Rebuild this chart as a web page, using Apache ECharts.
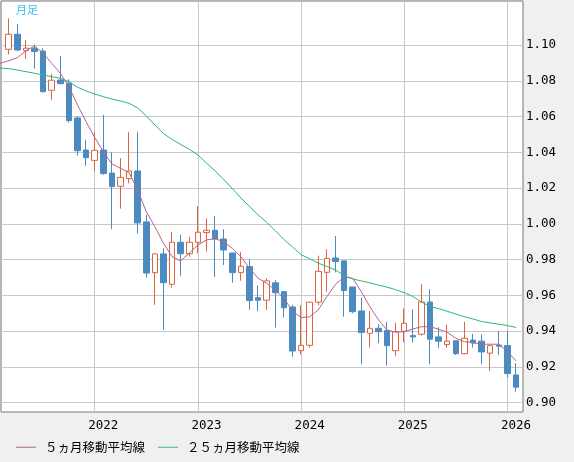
<!DOCTYPE html>
<html>
<head>
<meta charset="utf-8">
<script src="https://cdn.jsdelivr.net/npm/echarts@6/dist/echarts.min.js"></script>
<style>
html,body{margin:0;padding:0;background:#f0f0f0;}
#chart{width:574px;height:462px;}
</style>
</head>
<body>
<div id="chart"></div>
<script>
// Monthly candles, Mar 2021 .. Feb 2026
const months = [];
for (let k = 0; k < 60; k++) {
  const y = 2021 + Math.floor((k + 2) / 12);
  const m = ((k + 2) % 12) + 1;
  months.push(y + '-' + String(m).padStart(2, '0'));
}
const opens  = [1.0976,1.1060,1.0968,1.0982,1.0966,1.0747,1.0804,1.0786,1.0592,1.0413,
                1.0355,1.0413,1.0284,1.0210,1.0253,1.0296,1.0011,0.9727,0.9832,0.9662,
                0.9897,0.9833,0.9897,0.9951,0.9964,0.9915,0.9837,0.9727,0.9761,0.9587,
                0.9573,0.9670,0.9621,0.9535,0.9291,0.9321,0.9562,0.9729,0.9809,0.9793,
                0.9647,0.9513,0.9388,0.9416,0.9403,0.9291,0.9400,0.9375,0.9383,0.9563,
                0.9368,0.9325,0.9346,0.9274,0.9350,0.9344,0.9277,0.9322,0.9320,0.9155];
const closes = [1.1060,1.0972,1.0982,1.0963,1.0739,1.0803,1.0784,1.0577,1.0409,1.0370,
                1.0411,1.0281,1.0208,1.0260,1.0296,1.0005,0.9725,0.9832,0.9671,0.9897,
                0.9833,0.9897,0.9953,0.9964,0.9915,0.9854,0.9727,0.9763,0.9571,0.9573,
                0.9681,0.9615,0.9531,0.9289,0.9321,0.9562,0.9735,0.9807,0.9789,0.9627,
                0.9509,0.9392,0.9416,0.9397,0.9319,0.9397,0.9444,0.9368,0.9563,0.9355,
                0.9344,0.9344,0.9274,0.9360,0.9334,0.9284,0.9319,0.9316,0.9163,0.9087];
const lows   = [1.0948,1.0966,1.0923,1.0868,1.0735,1.0694,1.0780,1.0566,1.0381,1.0325,
                1.0297,1.0275,0.9970,1.0085,1.0227,0.9945,0.9699,0.9548,0.9407,0.9643,
                0.9710,0.9817,0.9836,0.9845,0.9703,0.9770,0.9671,0.9682,0.9520,0.9513,
                0.9519,0.9420,0.9476,0.9257,0.9269,0.9308,0.9545,0.9621,0.9729,0.9481,
                0.9500,0.9215,0.9308,0.9333,0.9207,0.9260,0.9336,0.9336,0.9375,0.9215,
                0.9306,0.9308,0.9267,0.9271,0.9308,0.9215,0.9178,0.9267,0.9140,0.9062];
const highs  = [1.1149,1.1117,1.1028,1.1002,1.0982,1.0838,1.0939,1.0808,1.0601,1.0469,
                1.0512,1.0609,1.0400,1.0367,1.0514,1.0514,1.0050,0.9836,0.9864,0.9955,
                0.9938,0.9928,1.0100,1.0031,1.0044,0.9970,0.9837,0.9843,0.9802,0.9655,
                0.9696,0.9686,0.9625,0.9547,0.9545,0.9562,0.9822,0.9858,0.9932,0.9793,
                0.9647,0.9587,0.9513,0.9439,0.9452,0.9446,0.9526,0.9522,0.9664,0.9634,
                0.9422,0.9435,0.9346,0.9451,0.9385,0.9383,0.9322,0.9401,0.9401,0.9222];
// moving averages: first entry is the month before the first candle (Feb 2021)
const ma5  = [1.0898,
              1.0912,1.0929,1.0968,1.0994,1.0954,1.0898,1.0842,1.0767,1.0665,1.0571,
              1.0483,1.0404,1.0335,1.0311,1.0286,1.0189,1.0068,0.9984,0.9891,0.9817,
              0.9793,0.9836,0.9882,0.9910,0.9917,0.9900,0.9863,0.9817,0.9752,0.9696,
              0.9668,0.9630,0.9584,0.9513,0.9476,0.9480,0.9519,0.9593,0.9662,0.9703,
              0.9696,0.9621,0.9537,0.9463,0.9407,0.9394,0.9397,0.9412,0.9425,0.9425,
              0.9411,0.9394,0.9360,0.9341,0.9336,0.9327,0.9327,0.9327,0.9286,0.9234];
const ma25 = [1.0871,
              1.0868,1.0860,1.0851,1.0842,1.0832,1.0823,1.0814,1.0795,1.0764,1.0743,
              1.0726,1.0711,1.0698,1.0687,1.0674,1.0648,1.0603,1.0553,1.0505,1.0472,
              1.0444,1.0417,1.0385,1.0340,1.0296,1.0248,1.0198,1.0145,1.0098,1.0050,
              1.0009,0.9962,0.9913,0.9871,0.9828,0.9805,0.9780,0.9762,0.9742,0.9711,
              0.9692,0.9681,0.9670,0.9658,0.9646,0.9632,0.9615,0.9594,0.9563,0.9538,
              0.9526,0.9511,0.9496,0.9481,0.9468,0.9454,0.9446,0.9439,0.9431,0.9421];
const years = ['2022','2023','2024','2025','2026'];
const yTicks = [0.90,0.92,0.94,0.96,0.98,1.00,1.02,1.04,1.06,1.08,1.10];
const seriesNames = ['５ヵ月移動平均線', '２５ヵ月移動平均線'];

const gridIdx = years.map(y => months.indexOf(y + '-01'));
const labelIdx = years.map(y => months.indexOf(y + '-02'));
const labelMap = {};
labelIdx.forEach((ix, k) => { labelMap[ix] = years[k]; });

const candles = months.map((m, i) => [i, opens[i], closes[i], lows[i], highs[i]]);
const monoFont = 'DejaVu Sans Mono';
const jpFont = '"Noto Sans CJK JP"';

const chart = echarts.init(document.getElementById('chart'), null, {renderer: 'canvas'});
chart.setOption({
  animation: false,
  backgroundColor: '#f0f0f0',
  grid: {
    left: 1, top: 1, right: 51, bottom: 50,
    show: true, backgroundColor: '#ffffff',
    borderColor: '#777777', borderWidth: 1
  },
  graphic: [{
    type: 'text', left: 16, top: 4,
    style: {text: '月足', fill: '#3cbcf0', font: '11px ' + jpFont}
  }],
  legend: {
    data: seriesNames,
    left: 16, top: 441, padding: 0,
    icon: 'rect', itemWidth: 20, itemHeight: 1, itemGap: 13,
    textStyle: {color: '#000', fontSize: 12.5, fontFamily: jpFont, padding: [0, 0, 0, 4]}
  },
  xAxis: {
    type: 'value', min: -0.895, max: 59.81,
    axisLine: {show: false},
    axisTick: {show: false, customValues: gridIdx},
    splitLine: {show: true, lineStyle: {color: '#c8c8c8', width: 1}},
    axisLabel: {
      customValues: labelIdx, margin: 7,
      color: '#000', fontSize: 12.5, fontFamily: monoFont,
      formatter: v => labelMap[Math.round(v)] || ''
    }
  },
  yAxis: {
    type: 'value', position: 'right', min: 0.8948, max: 1.1246, scale: true,
    axisLine: {show: false},
    axisTick: {show: false, customValues: yTicks},
    splitLine: {show: true, lineStyle: {color: '#c8c8c8', width: 1}},
    axisLabel: {
      customValues: yTicks, margin: 3,
      color: '#000', fontSize: 12.5, fontFamily: monoFont,
      formatter: v => v.toFixed(2)
    }
  },
  series: [
    {
      type: 'candlestick',
      data: candles,
      encode: {x: 0, y: [1, 2, 3, 4]},
      barWidth: 6,
      itemStyle: {
        color: '#ffffff', borderColor: '#dd6440',
        color0: '#4b8bc2', borderColor0: '#4b8bc2',
        borderWidth: 1
      }
    },
    {
      name: seriesNames[0], type: 'line', showSymbol: false, symbol: 'none',
      data: ma5.map((v, i) => [i - 1, v]),
      lineStyle: {color: '#b5638a', width: 1}, itemStyle: {color: '#b5638a'},
      z: 3
    },
    {
      name: seriesNames[1], type: 'line', showSymbol: false, symbol: 'none',
      data: ma25.map((v, i) => [i - 1, v]),
      lineStyle: {color: '#2db57a', width: 1}, itemStyle: {color: '#3cb88a'},
      z: 3
    }
  ]
});
</script>
</body>
</html>
